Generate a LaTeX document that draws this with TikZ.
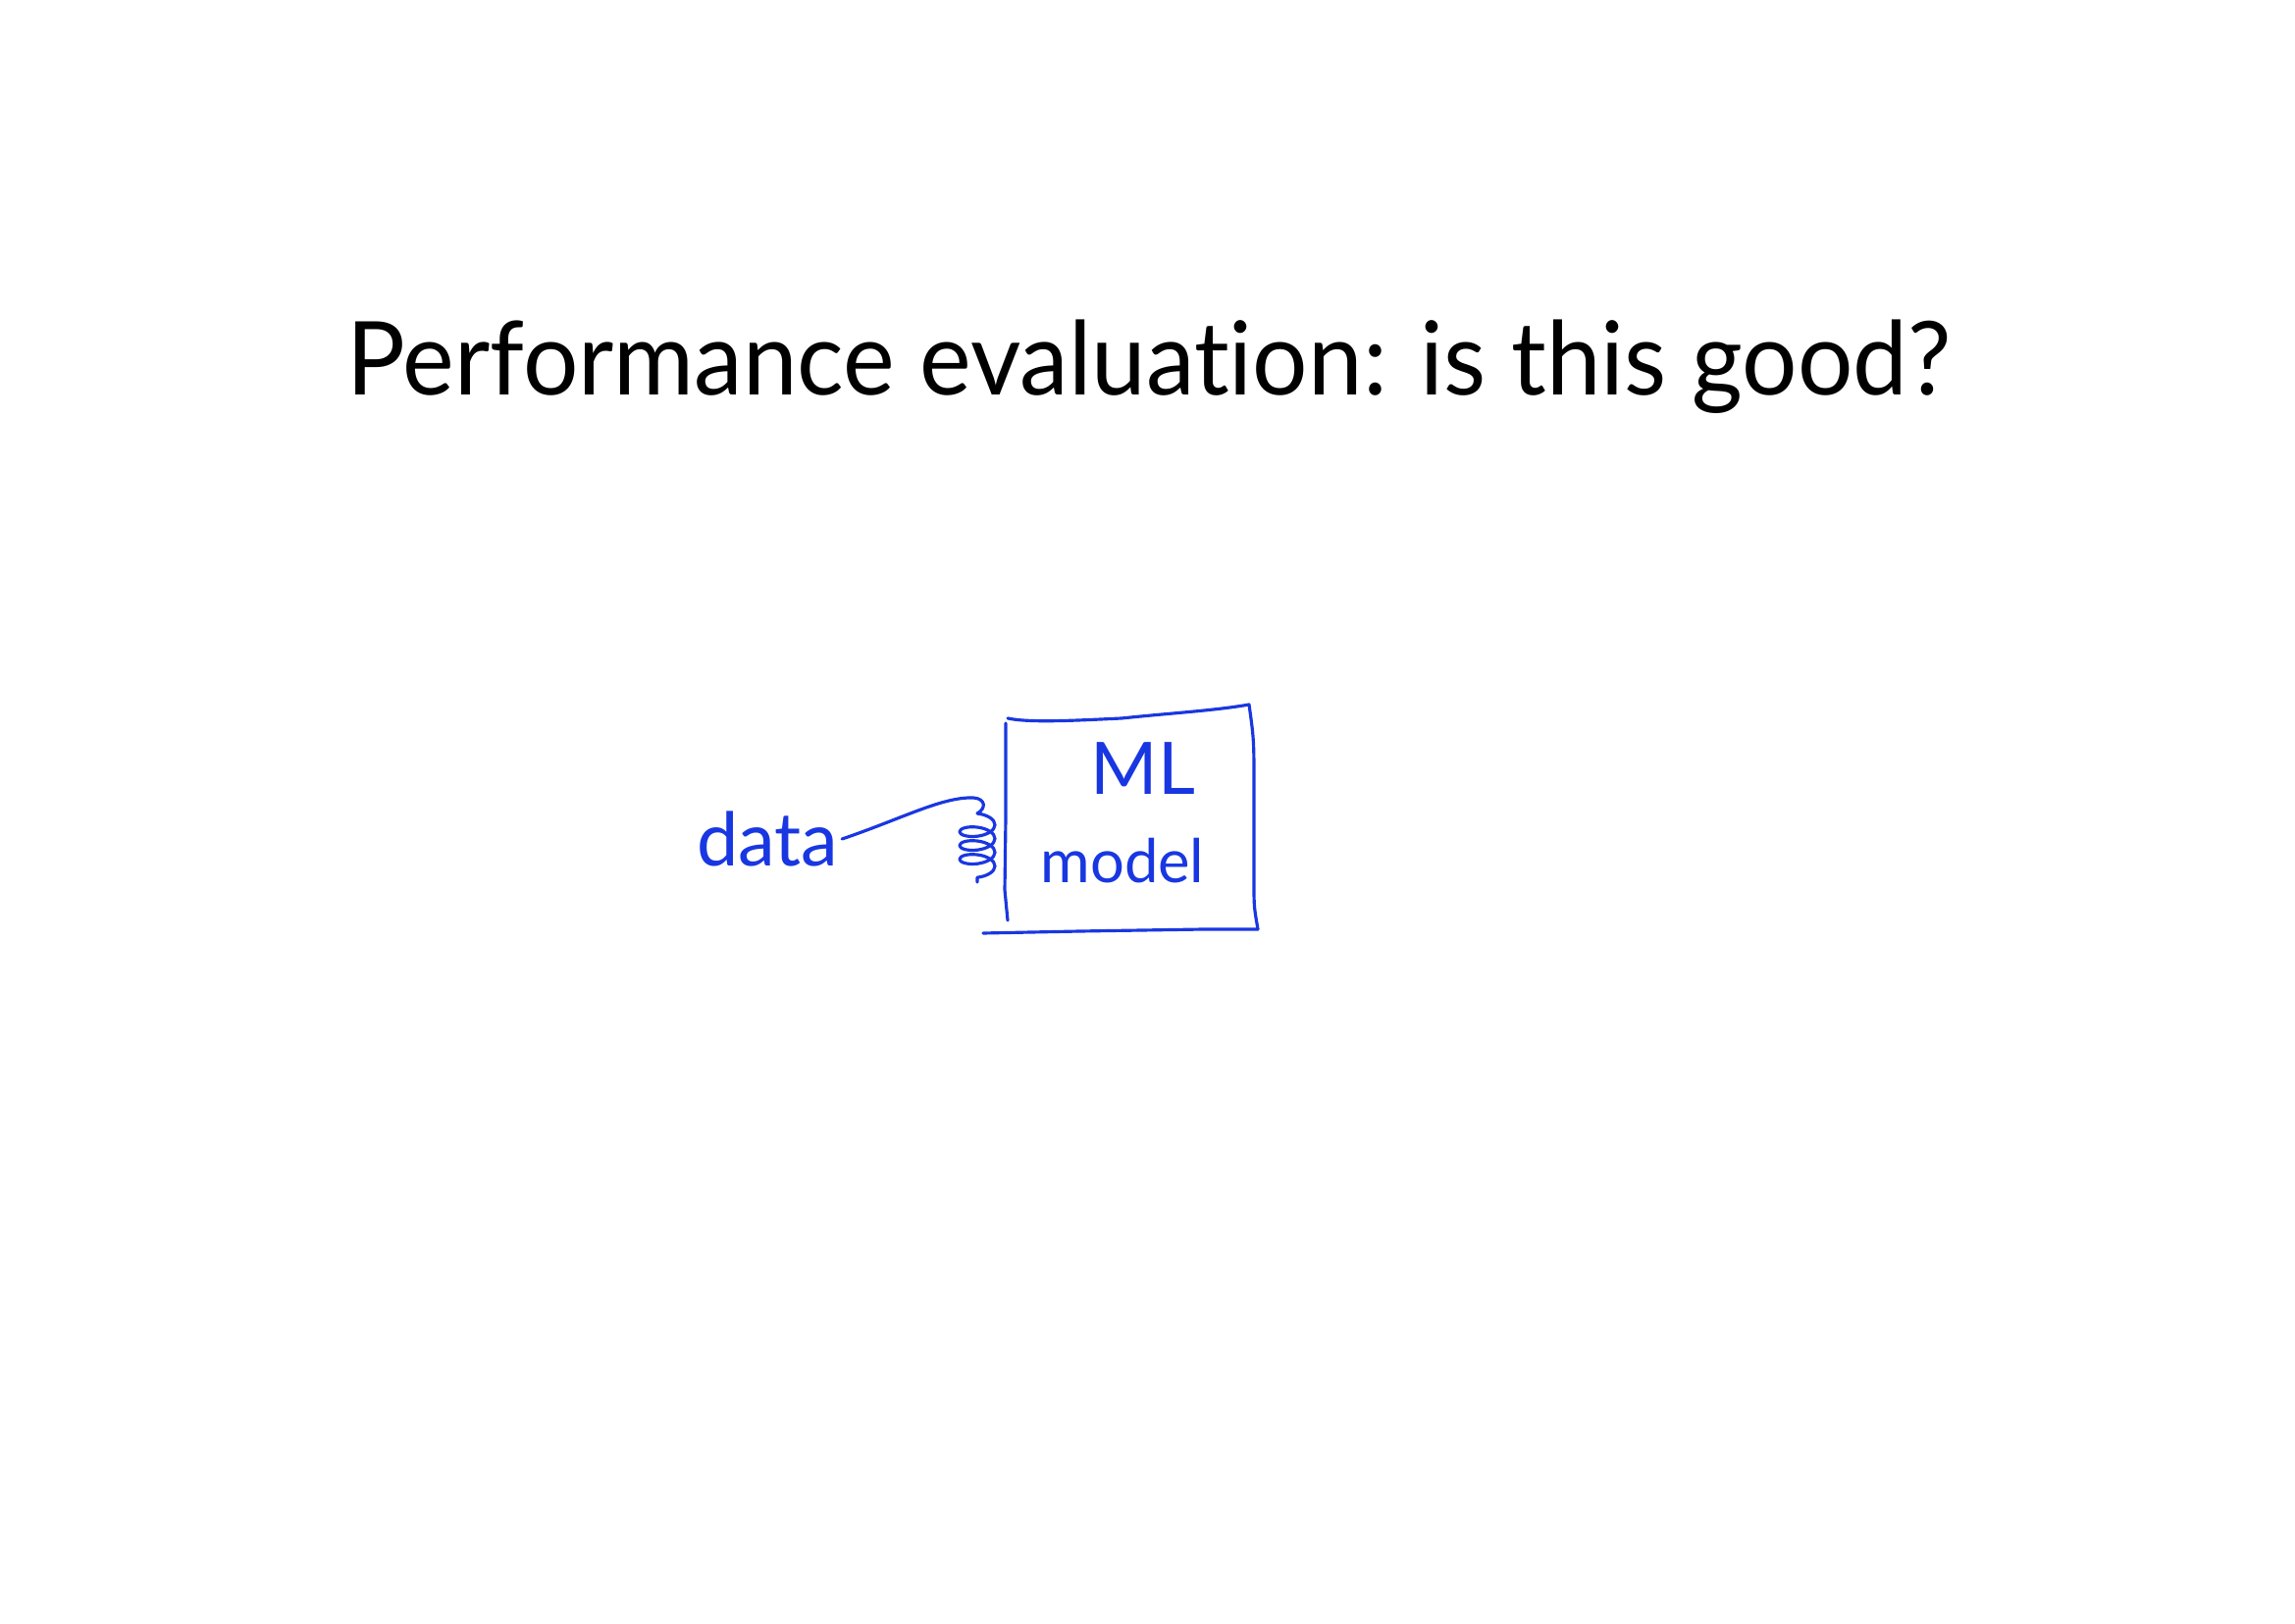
\documentclass[tikz,border=0pt]{standalone}
\usepackage{fontspec}
\setmainfont{Lato}[Ligatures=NoCommon]
\usetikzlibrary{decorations.pathmorphing}
\definecolor{penblue}{RGB}{25,55,225}
\tikzset{hand/.style={draw=penblue,line width=0.9pt,line cap=round,line join=round},
  handtext/.style={text=penblue,inner sep=1pt}}

\begin{document}
\begin{tikzpicture}
\useasboundingbox (0,0) rectangle (23.39,16.54);
\node[anchor=base] (title) at (11.71,12.51) {\scalebox{0.958}[1]{\fontsize{29.6}{34}\selectfont Performance evaluation: is this good?}};
% the drawing
\node[handtext] (data) at (7.82,7.99) {\fontsize{21.5}{24}\selectfont data};
\node[handtext] (ml) at (11.65,8.71) {\fontsize{21}{24}\selectfont ML};
\node[handtext] (model) at (11.44,7.77) {\fontsize{17.5}{20}\selectfont model};
\draw[hand] (10.27,9.22) .. controls (10.5,9.17) and (11.0,9.2) .. (11.43,9.22) .. controls (11.9,9.27) and (12.4,9.3) .. (12.73,9.36)
  .. controls (12.78,9.0) .. (12.78,8.5) -- (12.78,7.54) .. controls (12.78,7.3) .. (12.82,7.07);
\draw[hand] (10.02,7.03) -- (11.01,7.05) -- (12.27,7.07) -- (12.82,7.07);
\draw[hand] (10.25,9.17) -- (10.25,8.21) -- (10.24,7.47) -- (10.27,7.16);
\coordinate (cointop) at (9.96,8.25);\coordinate (coilbot) at (9.96,7.55);
\draw[hand] (data.east) .. controls (9.2,8.2) and (9.6,8.42) .. (9.92,8.41) .. controls (10.05,8.4) and (10.05,8.3) .. (cointop);
\draw[hand,decorate,decoration={coil,aspect=0.45,segment length=0.14cm,amplitude=0.18cm}] (cointop) -- (coilbot);
\end{tikzpicture}
\end{document}
